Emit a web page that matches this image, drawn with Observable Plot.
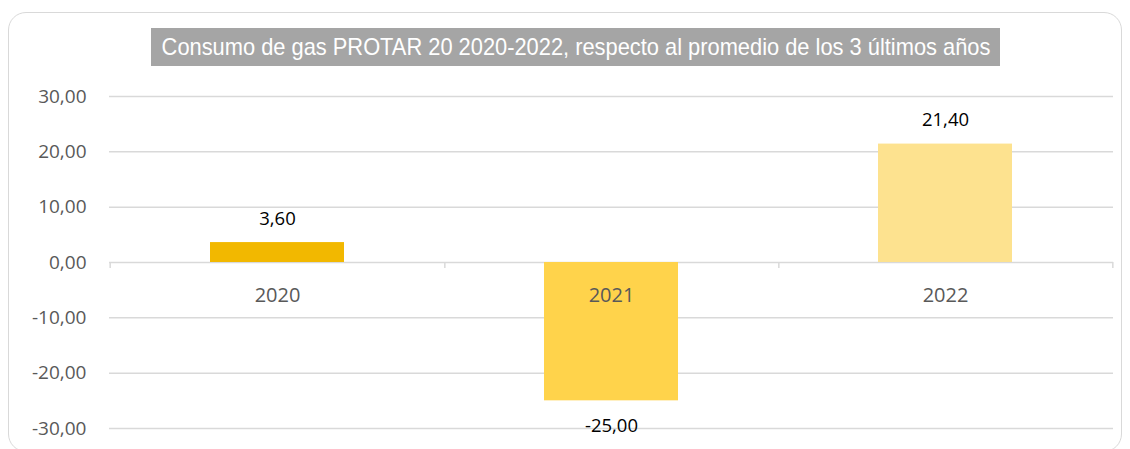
<!DOCTYPE html>
<html><head><meta charset="utf-8">
<script src="https://cdn.jsdelivr.net/npm/d3@7"></script>
<script src="https://cdn.jsdelivr.net/npm/@observablehq/plot@0.6"></script>
<style>
body{margin:0;background:#fff;width:1130px;height:449px;overflow:hidden;position:relative;font-family:"Open Sans",sans-serif;}
#frame{position:absolute;left:8px;top:12px;width:1114px;height:440px;border:1.5px solid #d9d9d9;border-radius:18px;box-sizing:border-box;}
#title{position:absolute;left:151px;top:28px;width:849px;height:38px;background:#a5a5a5;color:#fff;font-family:"Liberation Sans","Arial",sans-serif;font-size:24px;line-height:38px;white-space:nowrap;}
#title span{position:absolute;left:50%;top:0;transform:translateX(-50%) scaleX(0.91);transform-origin:center;}
#chart{position:absolute;left:0;top:66px;}
</style></head><body>
<div id="frame"></div>
<div id="title"><span>Consumo de gas PROTAR 20 2020-2022, respecto al promedio de los 3 últimos años</span></div>
<div id="chart"></div>
<script>
const years = ["2020", "2021", "2022"];
const values = [3.6, -25.0, 21.4];
const colors = ["#f2b800", "#ffd34b", "#fde28f"];
const yTicks = [-30, -20, -10, 0, 10, 20, 30];

const data = years.map((y, i) => ({year: y, value: values[i], color: colors[i]}));
const fmt = v => v.toFixed(2).replace(".", ",");
const W = 1130, H = 383, mL = 109, mR = 17;
const step = (W - mL - mR) / years.length;

const plot = Plot.plot({
  width: W, height: H,
  marginLeft: mL, marginRight: mR, marginTop: 30, marginBottom: 21,
  style: {fontFamily: "Open Sans, sans-serif", background: "transparent"},
  x: {domain: years, padding: 0.6, paddingOuter: 0.3, axis: null},
  y: {domain: [-30, 30], axis: null},
  marks: [
    Plot.ruleY(yTicks, {stroke: "#d9d9d9", strokeWidth: 1.5}),
    Plot.axisY({ticks: yTicks, tickFormat: fmt, tickSize: 0, tickPadding: 23, fontSize: 19, fill: "#595959", label: null}),
    Plot.barY(data, {x: "year", y: "value", fill: "color"}),
    Plot.ruleX([years[0]], {x: d => d, y1: 0, y2: -1.1, dx: -step / 2, stroke: "#d9d9d9", strokeWidth: 1.5}),
    Plot.ruleX(years, {x: d => d, y1: 0, y2: -1.1, dx: step / 2, stroke: "#d9d9d9", strokeWidth: 1.5}),
    Plot.text(data, {x: "year", y: 0, text: "year", dy: 33, fontSize: 20, fill: "#595959"}),
    Plot.text(data.filter(d => d.value >= 0), {x: "year", y: "value", text: d => fmt(d.value), dy: -24, fontSize: 18.5, fill: "#000"}),
    Plot.text(data.filter(d => d.value < 0), {x: "year", y: "value", text: d => fmt(d.value), dy: 25, fontSize: 18.5, fill: "#000"})
  ]
});
document.getElementById("chart").appendChild(plot);
</script>
</body></html>
